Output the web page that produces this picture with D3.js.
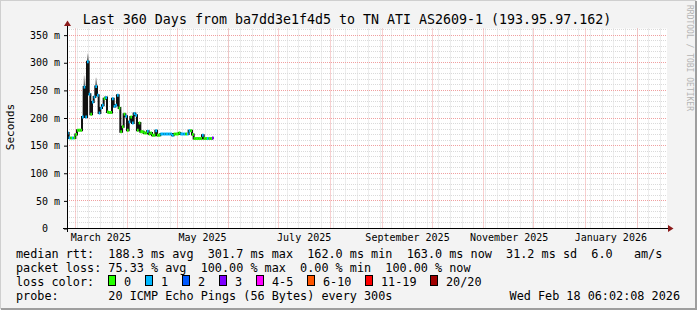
<!DOCTYPE html>
<html>
<head>
<meta charset="utf-8">
<script src="https://cdn.jsdelivr.net/npm/d3@7"></script>
<style>
body { margin: 0; background: #f3f3f3; }
svg { display: block; font-family: "DejaVu Sans Mono", monospace; }
text { white-space: pre; }
</style>
</head>
<body>
<div id="chart"></div>
<script>
// daily median rtt (ms), first day 2025-02-24
var startDay = Date.UTC(2025, 1, 24);
var endDay = Date.UTC(2026, 1, 19);
var medianMs = [
  173, 164, 164, 164, 164, 170, 178, 178, 178, 202,
  256, 202, 301.7, 243, 207, 229, 238, 257, 241, 209,
  218, 223, 235, 237, 211, 210, 210, 235, 221, 223,
  241, 218, 175, 184, 207, 203, 178, 193, 202, 191,
  208, 205, 178, 191, 175, 175, 173, 173, 176, 171,
  173, 169, 169, 177, 169, 169, 171, 171, 171, 171,
  171, 171, 171, 169, 171, 171, 171, 173, 171, 171,
  171, 171, 171, 177, 177, 170, 163, 163, 163, 163,
  163, 169, 163, 163, 163, 163, 163, 164
];
// lost pings out of 20 for each day
var lossPings = [
  1, 1, 0, 1, 0, 0, 0, 0, 0, 1,
  1, 1, 1, 1, 0, 1, 1, 1, 1, 1,
  1, 1, 0, 1, 0, 0, 0, 1, 1, 1,
  1, 0, 0, 0, 0, 1, 0, 1, 0, 1,
  1, 1, 0, 0, 0, 0, 0, 0, 1, 0,
  0, 0, 0, 1, 0, 0, 1, 1, 1, 1,
  1, 1, 1, 1, 0, 0, 0, 0, 1, 1,
  1, 0, 1, 1, 0, 0, 0, 0, 0, 0,
  0, 1, 0, 0, 1, 0, 0, 3
];
var smokeDays = [10, 12, 17];
var smokeTopMs = [277, 317, 273];

var yTicks = [0, 50, 100, 150, 200, 250, 300, 350];
var xLabelMonths = ["2025-03", "2025-05", "2025-07", "2025-09", "2025-11", "2026-01"];

var lossThresholds = [1, 2, 3, 4, 6, 11, 20];
var lossLabels = ["0", "1", "2", "3", "4-5", "6-10", "11-19", "20/20"];
var lossColors = ["#26ff00", "#00b8ff", "#0059ff", "#7e00ff", "#ff00ff", "#ff5500", "#ff0000", "#a00000"];

var legendLines = [
  "median rtt:  188.3 ms avg  301.7 ms max  162.0 ms min  163.0 ms now  31.2 ms sd  6.0   am/s",
  "packet loss: 75.33 % avg  100.00 % max  0.00 % min  100.00 % now"
];

var width = 697;
var height = 310;

var svg = d3.select("#chart")
  .append("svg")
  .attr("width", width)
  .attr("height", height);

// background + shaded frame
svg.append("rect").attr("width", width).attr("height", height).attr("fill", "#f3f3f3");
svg.append("path").attr("d", "M0,309 L0,0 L696,0").attr("fill", "none")
  .attr("stroke", "#cfcfcf").attr("stroke-width", 2);
svg.append("path").attr("d", "M1,309 L696,309 L696,1").attr("fill", "none")
  .attr("stroke", "#9e9e9e").attr("stroke-width", 2);

var x = d3.scaleUtc()
  .domain([new Date(startDay), new Date(endDay)])
  .range([67, 667]);

var y = d3.scaleLinear()
  .domain([0, 362])
  .range([228.5, 28.5]);

function day(i) { return d3.utcDay.offset(new Date(startDay), i); }
function crisp(v) { return Math.round(v - 0.5) + 0.5; }

var defs = svg.append("defs");
var grad = defs.append("linearGradient").attr("id", "smoke")
  .attr("x1", 0).attr("y1", 1).attr("x2", 0).attr("y2", 0);
grad.append("stop").attr("offset", 0).attr("stop-color", "#444");
grad.append("stop").attr("offset", 1).attr("stop-color", "#e4e4e4");

// canvas
svg.append("rect")
  .attr("x", 67).attr("y", 28.5)
  .attr("width", 600).attr("height", 200)
  .attr("fill", "#fff");

var grid = svg.append("g").attr("stroke-dasharray", "1,1").attr("stroke-width", 1);

// minor grid
var weeks = d3.utcSunday.range(x.domain()[0], x.domain()[1]);
grid.selectAll(".vmin").data(weeks).enter().append("line")
  .attr("x1", d => crisp(x(d))).attr("x2", d => crisp(x(d)))
  .attr("y1", 28.5).attr("y2", 228.5)
  .attr("stroke", "#dadada");
grid.selectAll(".hmin").data(d3.range(10, 361, 10).filter(v => v % 50)).enter().append("line")
  .attr("x1", 67).attr("x2", 667)
  .attr("y1", d => crisp(y(d))).attr("y2", d => crisp(y(d)))
  .attr("stroke", "#dadada");

// major grid
var months = d3.utcMonth.range(x.domain()[0], x.domain()[1]);
grid.selectAll(".vmaj").data(months).enter().append("line")
  .attr("x1", d => crisp(x(d))).attr("x2", d => crisp(x(d)))
  .attr("y1", 28.5).attr("y2", 228.5)
  .attr("stroke", "#f0a0a0");
grid.selectAll(".hmaj").data(yTicks.slice(1)).enter().append("line")
  .attr("x1", 67).attr("x2", 667)
  .attr("y1", d => crisp(y(d))).attr("y2", d => crisp(y(d)))
  .attr("stroke", "#f0a0a0");

// smoke
svg.selectAll(".smoke").data(smokeDays).enter().append("rect")
  .attr("x", d => x(day(d)))
  .attr("width", d => x(day(d + 1)) - x(day(d)))
  .attr("y", (d, i) => y(smokeTopMs[i]))
  .attr("height", (d, i) => y(medianMs[d]) - y(smokeTopMs[i]))
  .attr("fill", "url(#smoke)");

// median line, black step + loss coloured pieces
var pts = medianMs.map((v, i) => [x(day(i)), y(v)]);
pts.push([x(day(medianMs.length)), y(medianMs[medianMs.length - 1])]);

svg.append("path")
  .attr("d", d3.line().curve(d3.curveStepAfter)(pts))
  .attr("fill", "none")
  .attr("stroke", "#111")
  .attr("stroke-width", 2);

var lossColor = d3.scaleThreshold().domain(lossThresholds).range(lossColors);

svg.selectAll(".seg").data(medianMs).enter().append("line")
  .attr("x1", (d, i) => x(day(i)))
  .attr("x2", (d, i) => x(day(i + 1)))
  .attr("y1", d => y(d)).attr("y2", d => y(d))
  .attr("stroke", (d, i) => lossColor(lossPings[i]))
  .attr("stroke-width", 3);

// axes
var yAxis = svg.append("g")
  .attr("transform", "translate(67,0)")
  .call(d3.axisLeft(y).tickValues(yTicks).tickSize(3).tickPadding(4)
    .tickFormat(v => v ? v + " m" : "0"));
yAxis.select(".domain").remove();
yAxis.selectAll("line").attr("stroke", "#000");
yAxis.selectAll("text")
  .attr("font-family", "DejaVu Sans Mono").attr("font-size", "10px").attr("fill", "#000")
  .attr("dx", v => v ? 0 : -12);

var labelDates = xLabelMonths.map(s => d3.utcDay.offset(d3.utcParse("%Y-%m")(s), 15));
var xAxis = svg.append("g")
  .attr("transform", "translate(0,228.5)")
  .call(d3.axisBottom(x).tickValues(labelDates).tickSize(0)
    .tickFormat(d3.utcFormat("%B %Y")));
xAxis.select(".domain").remove();
xAxis.selectAll("text")
  .attr("y", 12.5).attr("dy", null)
  .attr("font-family", "DejaVu Sans Mono").attr("font-size", "10px").attr("fill", "#000");

svg.append("line").attr("x1", 67.5).attr("x2", 67.5).attr("y1", 232).attr("y2", 25)
  .attr("stroke", "#000");
svg.append("line").attr("x1", 63).attr("x2", 669).attr("y1", 228.5).attr("y2", 228.5)
  .attr("stroke", "#000");
svg.append("path").attr("d", "M64,26 L71,26 L67.5,20.5 Z").attr("fill", "#8b1a1a");
svg.append("path").attr("d", "M668,225 L668,232 L673.5,228.5 Z").attr("fill", "#8b1a1a");

// title and labels
svg.append("text")
  .attr("x", 347).attr("y", 23.5)
  .attr("text-anchor", "middle")
  .attr("font-size", "13.3px")
  .text("Last 360 Days from ba7dd3e1f4d5 to TN ATI AS2609-1 (193.95.97.162)");

svg.append("text")
  .attr("transform", "translate(14,127) rotate(-90)")
  .attr("text-anchor", "middle")
  .attr("font-size", "11px")
  .text("Seconds");

svg.append("text")
  .attr("transform", "translate(686.5,5) rotate(90)")
  .attr("font-size", "8px")
  .attr("fill", "#b4b4b4")
  .text("RRDTOOL / TOBI OETIKER");

// legend
var lg = svg.append("g").attr("font-size", "11.8px").attr("fill", "#000");
legendLines.forEach(function(t, i) {
  lg.append("text").attr("x", 16).attr("y", 258 + i * 14).text(t);
});
lg.append("text").attr("x", 16).attr("y", 286).text("loss color:");

var bx = 108;
lossLabels.forEach(function(l, i) {
  lg.append("rect")
    .attr("x", bx + 0.5).attr("y", 275.5)
    .attr("width", 7).attr("height", 10)
    .attr("fill", lossColors[i]).attr("stroke", "#000");
  lg.append("text").attr("x", bx + 16).attr("y", 286).text(l);
  bx = bx + 16 + l.length * 7 + 14;
});

lg.append("text").attr("x", 16).attr("y", 300)
  .text("probe:       20 ICMP Echo Pings (56 Bytes) every 300s");
lg.append("text").attr("x", 680).attr("y", 300).attr("text-anchor", "end")
  .text("Wed Feb 18 06:02:08 2026");
</script>
</body>
</html>
